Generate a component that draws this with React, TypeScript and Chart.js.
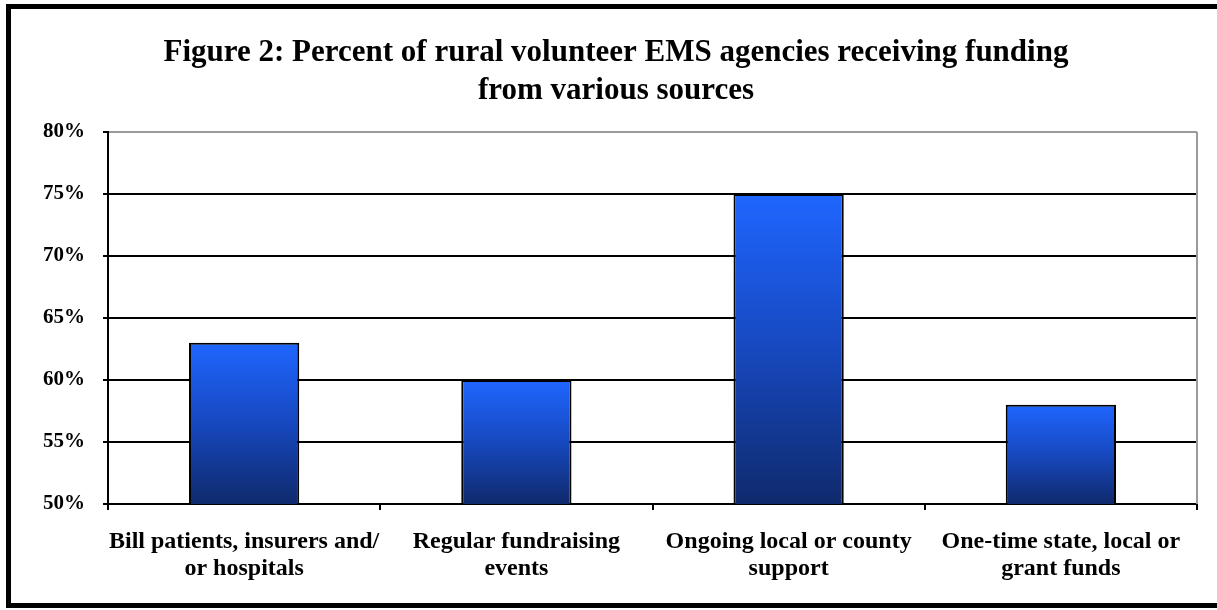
import React, { useEffect, useRef } from "react";
import { Chart, registerables } from "chart.js";

Chart.register(...registerables);

const titleLines = [
  "Figure 2: Percent of rural volunteer EMS agencies receiving funding",
  "from various sources",
];
const categories = [
  ["Bill patients, insurers and/", "or hospitals"],
  ["Regular fundraising", "events"],
  ["Ongoing local or county", "support"],
  ["One-time state, local or", "grant funds"],
];
const percentValues = [63, 60, 75, 58];
const yMin = 50;
const yMax = 80;
const yStep = 5;

const FONT = "'Liberation Serif', 'Times New Roman', serif";

const framePlugin = {
  id: "frame",
  beforeDraw(chart: any) {
    const c = chart.ctx;
    c.save();
    c.fillStyle = "#ffffff";
    c.fillRect(0, 0, chart.width, chart.height);
    c.fillStyle = "#000000";
    c.fillRect(6, 4, 5, 604);
    c.fillRect(6, 4, chart.width, 5);
    c.fillRect(6, 603, chart.width, 5);
    c.restore();
  },
  beforeDatasetsDraw(chart: any) {
    const a = chart.chartArea;
    const c = chart.ctx;
    c.save();
    c.strokeStyle = "#9a9a9a";
    c.lineWidth = 2;
    c.beginPath();
    c.moveTo(a.right, a.top);
    c.lineTo(a.right, a.bottom);
    c.stroke();
    c.restore();
  },
};

export default function App() {
  const ref = useRef<HTMLCanvasElement>(null);
  useEffect(() => {
    if (!ref.current) return;
    const chart = new Chart(ref.current, {
      type: "bar",
      data: {
        labels: categories,
        datasets: [
          {
            data: percentValues,
            backgroundColor: (ctx: any) => {
              const ch = ctx.chart;
              if (!ch.chartArea || ctx.type !== "data") return "#1a4fd0";
              const ys = ch.scales.y;
              const top = ys.getPixelForValue(ctx.raw);
              const bot = ys.getPixelForValue(yMin);
              const g = ch.ctx.createLinearGradient(0, top, 0, bot);
              g.addColorStop(0, "#1f66ff");
              g.addColorStop(0.5, "#1748bf");
              g.addColorStop(1, "#0f2a6c");
              return g;
            },
            borderColor: "#000000",
            borderWidth: 2,
            borderSkipped: false,
            categoryPercentage: 1,
            barPercentage: 0.405,
          },
        ],
      },
      options: {
        responsive: false,
        animation: false,
        layout: { padding: { left: 35, right: 20, top: 0, bottom: 0 } },
        plugins: {
          legend: { display: false },
          tooltip: { enabled: false },
          title: {
            display: true,
            text: titleLines,
            color: "#000",
            font: { family: FONT, size: 31, weight: "bold", lineHeight: 1.226 },
            padding: { top: 34, bottom: 22 },
          },
        },
        scales: {
          x: {
            grid: {
              offset: true,
              drawOnChartArea: false,
              tickLength: 6,
              color: "#000",
              lineWidth: 2,
            },
            border: { color: "#000", width: 2 },
            ticks: {
              color: "#000",
              font: { family: FONT, size: 24, weight: "bold", lineHeight: 1.125 },
              padding: 18,
              maxRotation: 0,
              autoSkip: false,
            },
            afterFit: (s: any) => {
              s.height = 106;
            },
          },
          y: {
            min: yMin,
            max: yMax,
            grid: {
              color: (ctx: any) => (ctx.tick && ctx.tick.value === yMax ? "#9a9a9a" : "#000"),
              lineWidth: 2,
              tickLength: 5,
              tickColor: "#000",
            },
            border: { color: "#000", width: 2 },
            ticks: {
              stepSize: yStep,
              color: "#000",
              font: { family: FONT, size: 21, weight: "bold" },
              padding: 18,
              callback: (v: any) => v + "%",
            },
            afterFit: (s: any) => {
              s.width = 73;
            },
          },
        },
      },
      plugins: [framePlugin],
    } as any);
    return () => chart.destroy();
  }, []);
  return (
    <div style={{ position: "fixed", left: 0, top: 0, width: 1217, height: 610 }}>
      <canvas ref={ref} width={1217} height={610} style={{ display: "block" }} />
    </div>
  );
}
